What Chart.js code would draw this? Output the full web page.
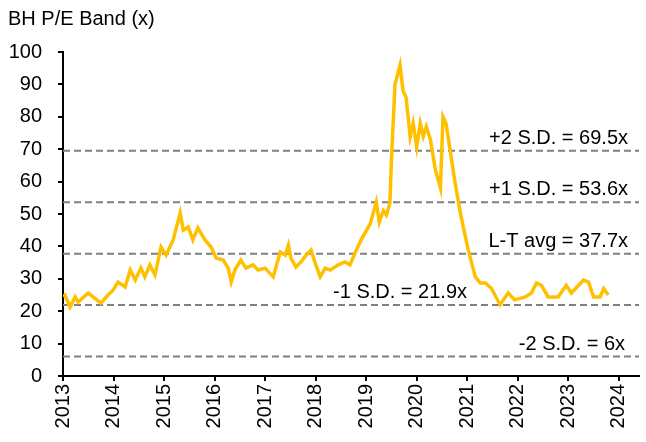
<!DOCTYPE html>
<html>
<head>
<meta charset="utf-8">
<script src="https://cdn.jsdelivr.net/npm/chart.js@4.4.1/dist/chart.umd.min.js"></script>
<style>
  html, body { margin: 0; padding: 0; background: #fff; }
  #wrap { width: 646px; height: 442px; }
</style>
</head>
<body>
<div id="wrap"><canvas id="peBand"></canvas></div>
<script>
// dates as decimal years
const years = [
  2013.00, 2013.04, 2013.14, 2013.24, 2013.30, 2013.50, 2013.75, 2013.89, 2013.99, 2014.09,
  2014.23, 2014.33, 2014.43, 2014.54, 2014.62, 2014.72, 2014.82, 2014.94, 2015.04, 2015.18,
  2015.32, 2015.38, 2015.48, 2015.57, 2015.67, 2015.81, 2015.93, 2016.03, 2016.17, 2016.27,
  2016.33, 2016.40, 2016.52, 2016.62, 2016.76, 2016.86, 2017.00, 2017.16, 2017.30, 2017.40,
  2017.46, 2017.51, 2017.61, 2017.71, 2017.81, 2017.91, 2017.99, 2018.09, 2018.19, 2018.29,
  2018.45, 2018.58, 2018.68, 2018.78, 2018.90, 2019.08, 2019.20, 2019.26, 2019.34, 2019.40,
  2019.47, 2019.50, 2019.57, 2019.67, 2019.73, 2019.79, 2019.87, 2019.93, 2020.00, 2020.07,
  2020.13, 2020.19, 2020.27, 2020.37, 2020.47, 2020.52, 2020.58, 2020.66, 2020.76, 2020.88,
  2021.02, 2021.16, 2021.26, 2021.36, 2021.48, 2021.65, 2021.81, 2021.94, 2022.15, 2022.27,
  2022.37, 2022.47, 2022.60, 2022.80, 2022.96, 2023.06, 2023.30, 2023.40, 2023.50, 2023.63,
  2023.70, 2023.79
];
const peValues = [
  24.5, 25.0, 21.3, 24.4, 22.8, 25.6, 22.5, 25.0, 26.5, 29.0,
  27.5, 32.7, 29.6, 33.3, 30.6, 34.3, 31.2, 39.8, 37.3, 42.0,
  50.3, 45.0, 46.0, 42.0, 45.7, 42.0, 39.8, 36.4, 35.8, 33.3,
  29.0, 32.7, 35.8, 33.3, 34.3, 32.7, 33.3, 30.6, 38.3, 37.3,
  40.4, 36.4, 33.6, 35.2, 37.3, 38.9, 34.9, 30.6, 33.3, 32.7,
  34.3, 35.2, 34.3, 38.0, 42.0, 47.0, 53.7, 47.5, 51.0, 49.7,
  53.4, 66.7, 90.0, 96.0, 88.0, 86.0, 73.8, 78.0, 70.7, 78.0,
  74.0, 77.0, 73.0, 63.6, 58.0, 80.0, 78.0, 69.8, 59.6, 49.0,
  38.9, 30.6, 28.7, 28.7, 27.0, 22.0, 25.6, 23.5, 24.4, 25.6,
  28.7, 28.0, 24.4, 24.4, 28.0, 25.6, 29.6, 29.0, 24.4, 24.4,
  27.0, 25.0
];

// band levels and their labels
const bandValues = [69.5, 53.6, 37.7, 21.9, 6];
const bandLabels = ["+2 S.D. = 69.5x", "+1 S.D. = 53.6x", "L-T avg = 37.7x", "-1 S.D. = 21.9x", "-2 S.D. = 6x"];
const bandLabelRight = [628, 628, 628, 467, 625];

const yTicks = [0, 10, 20, 30, 40, 50, 60, 70, 80, 90, 100];
const xStart = 2013, xEnd = 2024.4;

const fontFamily = "'Liberation Sans', Arial, sans-serif";

const datasets = [{
  data: years.map((y, i) => ({ x: y, y: peValues[i] })),
  borderColor: "#FFC000",
  borderWidth: 3.5,
  pointRadius: 0,
  tension: 0,
  order: 0
}];
bandValues.forEach(v => {
  datasets.push({
    data: [{ x: xStart, y: v }, { x: xEnd, y: v }],
    borderColor: "#808080",
    borderWidth: 2,
    borderDash: [7, 4],
    pointRadius: 0,
    order: 1
  });
});

const textPlugin = {
  id: "textPlugin",
  afterDraw(chart) {
    const c = chart.ctx;
    const ys = chart.scales.y;
    c.save();
    c.fillStyle = "#000";
    c.font = "20px " + fontFamily;
    c.textBaseline = "alphabetic";
    c.textAlign = "left";
    c.fillText("BH P/E Band (x)", 8, 25);
    c.textAlign = "right";
    bandValues.forEach((v, i) => {
      c.fillText(bandLabels[i], bandLabelRight[i], ys.getPixelForValue(v) - 7);
    });
    c.restore();
  }
};

const ctx = document.getElementById("peBand").getContext("2d");
new Chart(ctx, {
  type: "line",
  data: { datasets: datasets },
  options: {
    responsive: true,
    maintainAspectRatio: false,
    animation: false,
    layout: { padding: { top: 52, right: 5, left: 0, bottom: 0 } },
    plugins: { legend: { display: false }, tooltip: { enabled: false } },
    scales: {
      x: {
        type: "linear",
        min: xStart,
        max: xEnd,
        afterFit(s) { s.height = 66; },
        border: { color: "#000", width: 2 },
        grid: { drawOnChartArea: false, color: "#000", tickLength: 5, lineWidth: 2 },
        ticks: {
          stepSize: 1,
          includeBounds: false,
          minRotation: 90,
          maxRotation: 90,
          padding: 3,
          color: "#000",
          font: { size: 20, family: fontFamily },
          callback: v => String(v)
        }
      },
      y: {
        min: 0,
        max: 100,
        afterFit(s) { s.width = 63; },
        afterBuildTicks(s) { s.ticks = yTicks.map(v => ({ value: v })); },
        border: { color: "#000", width: 2 },
        grid: { drawOnChartArea: false, color: "#000", tickLength: 5, lineWidth: 2 },
        ticks: {
          padding: 16,
          color: "#000",
          font: { size: 20, family: fontFamily }
        }
      }
    }
  },
  plugins: [textPlugin]
});
</script>
</body>
</html>
